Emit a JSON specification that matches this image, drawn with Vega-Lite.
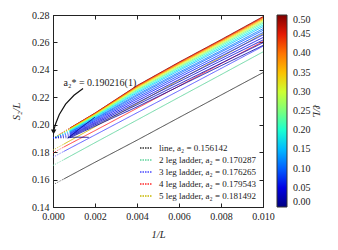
{
  "$schema": "https://vega.github.io/schema/vega-lite/v6.json",
  "width": 210,
  "height": 192,
  "autosize": "none",
  "padding": {"left": 53, "top": 15, "right": 75, "bottom": 43},
  "background": "white",
  "config": {
    "font": "Liberation Serif",
    "view": {"stroke": "#222", "strokeWidth": 1},
    "axis": {"grid": false, "labelFlush": false, "labelOverlap": false, "domainColor": "#222", "tickColor": "#222", "labelColor": "#222", "titleColor": "#222", "labelFontSize": 10, "titleFontSize": 10.5, "titleFontWeight": "normal", "labelFont": "Liberation Serif", "titleFont": "Liberation Serif"},
    "legend": {"labelFont": "Liberation Serif", "titleFont": "Liberation Serif", "labelColor": "#222", "titleColor": "#222"}
  },
  "datasets": {
    "ladders": [
      {"s": "line, a₂ = 0.156142", "seg": "fit", "x": 0, "y": 0.1562},
      {"s": "line, a₂ = 0.156142", "seg": "fit", "x": 0.0005, "y": 0.1603},
      {"s": "line, a₂ = 0.156142", "seg": "data", "x": 0.0005, "y": 0.1603},
      {"s": "line, a₂ = 0.156142", "seg": "data", "x": 0.002, "y": 0.1726},
      {"s": "line, a₂ = 0.156142", "seg": "data", "x": 0.004, "y": 0.1887},
      {"s": "line, a₂ = 0.156142", "seg": "data", "x": 0.006, "y": 0.2052},
      {"s": "line, a₂ = 0.156142", "seg": "data", "x": 0.008, "y": 0.2216},
      {"s": "line, a₂ = 0.156142", "seg": "data", "x": 0.01, "y": 0.238},
      {"s": "2 leg ladder, a₂ = 0.170287", "seg": "fit", "x": 0, "y": 0.1703},
      {"s": "2 leg ladder, a₂ = 0.170287", "seg": "fit", "x": 0.0005, "y": 0.1744},
      {"s": "2 leg ladder, a₂ = 0.170287", "seg": "data", "x": 0.0005, "y": 0.1744},
      {"s": "2 leg ladder, a₂ = 0.170287", "seg": "data", "x": 0.002, "y": 0.1869},
      {"s": "2 leg ladder, a₂ = 0.170287", "seg": "data", "x": 0.004, "y": 0.2034},
      {"s": "2 leg ladder, a₂ = 0.170287", "seg": "data", "x": 0.006, "y": 0.22},
      {"s": "2 leg ladder, a₂ = 0.170287", "seg": "data", "x": 0.008, "y": 0.2365},
      {"s": "2 leg ladder, a₂ = 0.170287", "seg": "data", "x": 0.01, "y": 0.2531},
      {"s": "3 leg ladder, a₂ = 0.176265", "seg": "fit", "x": 0, "y": 0.1763},
      {"s": "3 leg ladder, a₂ = 0.176265", "seg": "fit", "x": 0.0005, "y": 0.1804},
      {"s": "3 leg ladder, a₂ = 0.176265", "seg": "data", "x": 0.0005, "y": 0.1804},
      {"s": "3 leg ladder, a₂ = 0.176265", "seg": "data", "x": 0.002, "y": 0.1925},
      {"s": "3 leg ladder, a₂ = 0.176265", "seg": "data", "x": 0.004, "y": 0.2087},
      {"s": "3 leg ladder, a₂ = 0.176265", "seg": "data", "x": 0.006, "y": 0.2248},
      {"s": "3 leg ladder, a₂ = 0.176265", "seg": "data", "x": 0.008, "y": 0.241},
      {"s": "3 leg ladder, a₂ = 0.176265", "seg": "data", "x": 0.01, "y": 0.2572},
      {"s": "4 leg ladder, a₂ = 0.179543", "seg": "fit", "x": 0, "y": 0.1795},
      {"s": "4 leg ladder, a₂ = 0.179543", "seg": "fit", "x": 0.0005, "y": 0.1836},
      {"s": "4 leg ladder, a₂ = 0.179543", "seg": "data", "x": 0.0005, "y": 0.1836},
      {"s": "4 leg ladder, a₂ = 0.179543", "seg": "data", "x": 0.002, "y": 0.1957},
      {"s": "4 leg ladder, a₂ = 0.179543", "seg": "data", "x": 0.004, "y": 0.212},
      {"s": "4 leg ladder, a₂ = 0.179543", "seg": "data", "x": 0.006, "y": 0.2282},
      {"s": "4 leg ladder, a₂ = 0.179543", "seg": "data", "x": 0.008, "y": 0.2445},
      {"s": "4 leg ladder, a₂ = 0.179543", "seg": "data", "x": 0.01, "y": 0.2607},
      {"s": "5 leg ladder, a₂ = 0.181492", "seg": "fit", "x": 0, "y": 0.1815},
      {"s": "5 leg ladder, a₂ = 0.181492", "seg": "fit", "x": 0.0005, "y": 0.1857},
      {"s": "5 leg ladder, a₂ = 0.181492", "seg": "data", "x": 0.0005, "y": 0.1857},
      {"s": "5 leg ladder, a₂ = 0.181492", "seg": "data", "x": 0.002, "y": 0.1985},
      {"s": "5 leg ladder, a₂ = 0.181492", "seg": "data", "x": 0.004, "y": 0.2154},
      {"s": "5 leg ladder, a₂ = 0.181492", "seg": "data", "x": 0.006, "y": 0.2324},
      {"s": "5 leg ladder, a₂ = 0.181492", "seg": "data", "x": 0.008, "y": 0.2493},
      {"s": "5 leg ladder, a₂ = 0.181492", "seg": "data", "x": 0.01, "y": 0.2663}
    ],
    "curves": [
      {"id": "c1", "r": 0.5, "seg": "fit", "x": 0, "y": 0.1902},
      {"id": "c1", "r": 0.5, "seg": "fit", "x": 0.0008, "y": 0.1975},
      {"id": "c1", "r": 0.5, "seg": "data", "x": 0.0008, "y": 0.1975},
      {"id": "c1", "r": 0.5, "seg": "data", "x": 0.002, "y": 0.2085},
      {"id": "c1", "r": 0.5, "seg": "data", "x": 0.004, "y": 0.2285},
      {"id": "c1", "r": 0.5, "seg": "data", "x": 0.006, "y": 0.2456},
      {"id": "c1", "r": 0.5, "seg": "data", "x": 0.008, "y": 0.262},
      {"id": "c1", "r": 0.5, "seg": "data", "x": 0.01, "y": 0.2788},
      {"id": "c2", "r": 0.46, "seg": "fit", "x": 0, "y": 0.1902},
      {"id": "c2", "r": 0.46, "seg": "fit", "x": 0.0008, "y": 0.1974},
      {"id": "c2", "r": 0.46, "seg": "data", "x": 0.0008, "y": 0.1974},
      {"id": "c2", "r": 0.46, "seg": "data", "x": 0.002, "y": 0.2083},
      {"id": "c2", "r": 0.46, "seg": "data", "x": 0.004, "y": 0.2282},
      {"id": "c2", "r": 0.46, "seg": "data", "x": 0.006, "y": 0.2453},
      {"id": "c2", "r": 0.46, "seg": "data", "x": 0.008, "y": 0.2616},
      {"id": "c2", "r": 0.46, "seg": "data", "x": 0.01, "y": 0.2784},
      {"id": "c3", "r": 0.42, "seg": "fit", "x": 0, "y": 0.1902},
      {"id": "c3", "r": 0.42, "seg": "fit", "x": 0.0008, "y": 0.1972},
      {"id": "c3", "r": 0.42, "seg": "data", "x": 0.0008, "y": 0.1972},
      {"id": "c3", "r": 0.42, "seg": "data", "x": 0.002, "y": 0.2081},
      {"id": "c3", "r": 0.42, "seg": "data", "x": 0.004, "y": 0.2278},
      {"id": "c3", "r": 0.42, "seg": "data", "x": 0.006, "y": 0.2448},
      {"id": "c3", "r": 0.42, "seg": "data", "x": 0.008, "y": 0.2612},
      {"id": "c3", "r": 0.42, "seg": "data", "x": 0.01, "y": 0.2779},
      {"id": "c4", "r": 0.38, "seg": "fit", "x": 0, "y": 0.1902},
      {"id": "c4", "r": 0.38, "seg": "fit", "x": 0.0008, "y": 0.197},
      {"id": "c4", "r": 0.38, "seg": "data", "x": 0.0008, "y": 0.197},
      {"id": "c4", "r": 0.38, "seg": "data", "x": 0.002, "y": 0.2078},
      {"id": "c4", "r": 0.38, "seg": "data", "x": 0.004, "y": 0.2274},
      {"id": "c4", "r": 0.38, "seg": "data", "x": 0.006, "y": 0.2443},
      {"id": "c4", "r": 0.38, "seg": "data", "x": 0.008, "y": 0.2607},
      {"id": "c4", "r": 0.38, "seg": "data", "x": 0.01, "y": 0.2773},
      {"id": "c5", "r": 0.34, "seg": "fit", "x": 0, "y": 0.1902},
      {"id": "c5", "r": 0.34, "seg": "fit", "x": 0.0008, "y": 0.1968},
      {"id": "c5", "r": 0.34, "seg": "data", "x": 0.0008, "y": 0.1968},
      {"id": "c5", "r": 0.34, "seg": "data", "x": 0.002, "y": 0.2075},
      {"id": "c5", "r": 0.34, "seg": "data", "x": 0.004, "y": 0.2269},
      {"id": "c5", "r": 0.34, "seg": "data", "x": 0.006, "y": 0.2438},
      {"id": "c5", "r": 0.34, "seg": "data", "x": 0.008, "y": 0.26},
      {"id": "c5", "r": 0.34, "seg": "data", "x": 0.01, "y": 0.2766},
      {"id": "c6", "r": 0.3, "seg": "fit", "x": 0, "y": 0.1902},
      {"id": "c6", "r": 0.3, "seg": "fit", "x": 0.0008, "y": 0.1965},
      {"id": "c6", "r": 0.3, "seg": "data", "x": 0.0008, "y": 0.1965},
      {"id": "c6", "r": 0.3, "seg": "data", "x": 0.002, "y": 0.2071},
      {"id": "c6", "r": 0.3, "seg": "data", "x": 0.004, "y": 0.2263},
      {"id": "c6", "r": 0.3, "seg": "data", "x": 0.006, "y": 0.2431},
      {"id": "c6", "r": 0.3, "seg": "data", "x": 0.008, "y": 0.2593},
      {"id": "c6", "r": 0.3, "seg": "data", "x": 0.01, "y": 0.2758},
      {"id": "c7", "r": 0.26, "seg": "fit", "x": 0, "y": 0.1902},
      {"id": "c7", "r": 0.26, "seg": "fit", "x": 0.0008, "y": 0.1962},
      {"id": "c7", "r": 0.26, "seg": "data", "x": 0.0008, "y": 0.1962},
      {"id": "c7", "r": 0.26, "seg": "data", "x": 0.002, "y": 0.2067},
      {"id": "c7", "r": 0.26, "seg": "data", "x": 0.004, "y": 0.2256},
      {"id": "c7", "r": 0.26, "seg": "data", "x": 0.006, "y": 0.2423},
      {"id": "c7", "r": 0.26, "seg": "data", "x": 0.008, "y": 0.2585},
      {"id": "c7", "r": 0.26, "seg": "data", "x": 0.01, "y": 0.2749},
      {"id": "c8", "r": 0.22, "seg": "fit", "x": 0, "y": 0.1902},
      {"id": "c8", "r": 0.22, "seg": "fit", "x": 0.0008, "y": 0.1959},
      {"id": "c8", "r": 0.22, "seg": "data", "x": 0.0008, "y": 0.1959},
      {"id": "c8", "r": 0.22, "seg": "data", "x": 0.002, "y": 0.2063},
      {"id": "c8", "r": 0.22, "seg": "data", "x": 0.004, "y": 0.2249},
      {"id": "c8", "r": 0.22, "seg": "data", "x": 0.006, "y": 0.2415},
      {"id": "c8", "r": 0.22, "seg": "data", "x": 0.008, "y": 0.2576},
      {"id": "c8", "r": 0.22, "seg": "data", "x": 0.01, "y": 0.2739},
      {"id": "c9", "r": 0.18, "seg": "fit", "x": 0, "y": 0.1902},
      {"id": "c9", "r": 0.18, "seg": "fit", "x": 0.0008, "y": 0.1955},
      {"id": "c9", "r": 0.18, "seg": "data", "x": 0.0008, "y": 0.1955},
      {"id": "c9", "r": 0.18, "seg": "data", "x": 0.002, "y": 0.2057},
      {"id": "c9", "r": 0.18, "seg": "data", "x": 0.004, "y": 0.224},
      {"id": "c9", "r": 0.18, "seg": "data", "x": 0.006, "y": 0.2405},
      {"id": "c9", "r": 0.18, "seg": "data", "x": 0.008, "y": 0.2565},
      {"id": "c9", "r": 0.18, "seg": "data", "x": 0.01, "y": 0.2727},
      {"id": "c10", "r": 0.15, "seg": "fit", "x": 0, "y": 0.1902},
      {"id": "c10", "r": 0.15, "seg": "fit", "x": 0.0008, "y": 0.1951},
      {"id": "c10", "r": 0.15, "seg": "data", "x": 0.0008, "y": 0.1951},
      {"id": "c10", "r": 0.15, "seg": "data", "x": 0.002, "y": 0.2052},
      {"id": "c10", "r": 0.15, "seg": "data", "x": 0.004, "y": 0.2231},
      {"id": "c10", "r": 0.15, "seg": "data", "x": 0.006, "y": 0.2395},
      {"id": "c10", "r": 0.15, "seg": "data", "x": 0.008, "y": 0.2554},
      {"id": "c10", "r": 0.15, "seg": "data", "x": 0.01, "y": 0.2715},
      {"id": "c11", "r": 0.12, "seg": "fit", "x": 0, "y": 0.1902},
      {"id": "c11", "r": 0.12, "seg": "fit", "x": 0.0008, "y": 0.1946},
      {"id": "c11", "r": 0.12, "seg": "data", "x": 0.0008, "y": 0.1946},
      {"id": "c11", "r": 0.12, "seg": "data", "x": 0.002, "y": 0.2045},
      {"id": "c11", "r": 0.12, "seg": "data", "x": 0.004, "y": 0.222},
      {"id": "c11", "r": 0.12, "seg": "data", "x": 0.006, "y": 0.2382},
      {"id": "c11", "r": 0.12, "seg": "data", "x": 0.008, "y": 0.254},
      {"id": "c11", "r": 0.12, "seg": "data", "x": 0.01, "y": 0.27},
      {"id": "c12", "r": 0.1, "seg": "fit", "x": 0, "y": 0.1902},
      {"id": "c12", "r": 0.1, "seg": "fit", "x": 0.0008, "y": 0.1942},
      {"id": "c12", "r": 0.1, "seg": "data", "x": 0.0008, "y": 0.1942},
      {"id": "c12", "r": 0.1, "seg": "data", "x": 0.002, "y": 0.204},
      {"id": "c12", "r": 0.1, "seg": "data", "x": 0.004, "y": 0.2211},
      {"id": "c12", "r": 0.1, "seg": "data", "x": 0.006, "y": 0.2372},
      {"id": "c12", "r": 0.1, "seg": "data", "x": 0.008, "y": 0.253},
      {"id": "c12", "r": 0.1, "seg": "data", "x": 0.01, "y": 0.2688},
      {"id": "c13", "r": 0.08, "seg": "fit", "x": 0, "y": 0.1902},
      {"id": "c13", "r": 0.08, "seg": "fit", "x": 0.0008, "y": 0.1936},
      {"id": "c13", "r": 0.08, "seg": "data", "x": 0.0008, "y": 0.1936},
      {"id": "c13", "r": 0.08, "seg": "data", "x": 0.002, "y": 0.2033},
      {"id": "c13", "r": 0.08, "seg": "data", "x": 0.004, "y": 0.2199},
      {"id": "c13", "r": 0.08, "seg": "data", "x": 0.006, "y": 0.2359},
      {"id": "c13", "r": 0.08, "seg": "data", "x": 0.008, "y": 0.2515},
      {"id": "c13", "r": 0.08, "seg": "data", "x": 0.01, "y": 0.2672},
      {"id": "c14", "r": 0.065, "seg": "fit", "x": 0, "y": 0.1902},
      {"id": "c14", "r": 0.065, "seg": "fit", "x": 0.0008, "y": 0.1931},
      {"id": "c14", "r": 0.065, "seg": "data", "x": 0.0008, "y": 0.1931},
      {"id": "c14", "r": 0.065, "seg": "data", "x": 0.002, "y": 0.2025},
      {"id": "c14", "r": 0.065, "seg": "data", "x": 0.004, "y": 0.2187},
      {"id": "c14", "r": 0.065, "seg": "data", "x": 0.006, "y": 0.2345},
      {"id": "c14", "r": 0.065, "seg": "data", "x": 0.008, "y": 0.25},
      {"id": "c14", "r": 0.065, "seg": "data", "x": 0.01, "y": 0.2655},
      {"id": "c15", "r": 0.05, "seg": "fit", "x": 0, "y": 0.1902},
      {"id": "c15", "r": 0.05, "seg": "fit", "x": 0.0008, "y": 0.1924},
      {"id": "c15", "r": 0.05, "seg": "data", "x": 0.0008, "y": 0.1924},
      {"id": "c15", "r": 0.05, "seg": "data", "x": 0.002, "y": 0.2016},
      {"id": "c15", "r": 0.05, "seg": "data", "x": 0.004, "y": 0.2173},
      {"id": "c15", "r": 0.05, "seg": "data", "x": 0.006, "y": 0.2329},
      {"id": "c15", "r": 0.05, "seg": "data", "x": 0.008, "y": 0.2482},
      {"id": "c15", "r": 0.05, "seg": "data", "x": 0.01, "y": 0.2636},
      {"id": "c16", "r": 0.04, "seg": "fit", "x": 0, "y": 0.1902},
      {"id": "c16", "r": 0.04, "seg": "fit", "x": 0.0008, "y": 0.1918},
      {"id": "c16", "r": 0.04, "seg": "data", "x": 0.0008, "y": 0.1918},
      {"id": "c16", "r": 0.04, "seg": "data", "x": 0.002, "y": 0.2008},
      {"id": "c16", "r": 0.04, "seg": "data", "x": 0.004, "y": 0.2159},
      {"id": "c16", "r": 0.04, "seg": "data", "x": 0.006, "y": 0.2313},
      {"id": "c16", "r": 0.04, "seg": "data", "x": 0.008, "y": 0.2466},
      {"id": "c16", "r": 0.04, "seg": "data", "x": 0.01, "y": 0.2618},
      {"id": "c17", "r": 0.03, "seg": "fit", "x": 0, "y": 0.1902},
      {"id": "c17", "r": 0.03, "seg": "fit", "x": 0.0008, "y": 0.1912},
      {"id": "c17", "r": 0.03, "seg": "data", "x": 0.0008, "y": 0.1912},
      {"id": "c17", "r": 0.03, "seg": "data", "x": 0.002, "y": 0.1999},
      {"id": "c17", "r": 0.03, "seg": "data", "x": 0.004, "y": 0.2145},
      {"id": "c17", "r": 0.03, "seg": "data", "x": 0.006, "y": 0.2296},
      {"id": "c17", "r": 0.03, "seg": "data", "x": 0.008, "y": 0.2448},
      {"id": "c17", "r": 0.03, "seg": "data", "x": 0.01, "y": 0.2598},
      {"id": "c18", "r": 0.02, "seg": "fit", "x": 0, "y": 0.1902},
      {"id": "c18", "r": 0.02, "seg": "fit", "x": 0.0008, "y": 0.1905},
      {"id": "c18", "r": 0.02, "seg": "data", "x": 0.0008, "y": 0.1905},
      {"id": "c18", "r": 0.02, "seg": "data", "x": 0.002, "y": 0.199},
      {"id": "c18", "r": 0.02, "seg": "data", "x": 0.004, "y": 0.213},
      {"id": "c18", "r": 0.02, "seg": "data", "x": 0.006, "y": 0.228},
      {"id": "c18", "r": 0.02, "seg": "data", "x": 0.008, "y": 0.243},
      {"id": "c18", "r": 0.02, "seg": "data", "x": 0.01, "y": 0.2578},
      {"id": "n1", "r": 0.005, "seg": "data", "x": 0.0007, "y": 0.1908},
      {"id": "n1", "r": 0.005, "seg": "data", "x": 0.0012, "y": 0.1909},
      {"id": "n1", "r": 0.005, "seg": "data", "x": 0.0017, "y": 0.1908},
      {"id": "n2", "r": 0.01, "seg": "data", "x": 0.0007, "y": 0.1901},
      {"id": "n2", "r": 0.01, "seg": "data", "x": 0.0013, "y": 0.1975},
      {"id": "n2", "r": 0.01, "seg": "data", "x": 0.002, "y": 0.2055}
    ],
    "arrow": [
      {"x": 0.00143, "y": 0.2264},
      {"x": 0.001, "y": 0.2215},
      {"x": 0.0006, "y": 0.215},
      {"x": 0.0003, "y": 0.2075},
      {"x": 0.00012, "y": 0.2005},
      {"x": 0.00004, "y": 0.196}
    ],
    "head": [{"x": 0.00003, "y": 0.1948}],
    "note": [{"x": 0.0005, "y": 0.2307, "t": "a₂* = 0.190216(1)"}]
  },
  "layer": [
    {
      "data": {"name": "ladders"},
      "mark": {"type": "line", "strokeWidth": 0.9},
      "encoding": {
        "x": {"field": "x", "type": "quantitative", "scale": {"domain": [0, 0.01], "nice": false, "zero": false},
              "axis": {"title": "1/L", "titleFontStyle": "italic", "values": [0, 0.002, 0.004, 0.006, 0.008, 0.01], "format": ".3f", "tickSize": -4, "labelPadding": 8, "titlePadding": 8}},
        "y": {"field": "y", "type": "quantitative", "scale": {"domain": [0.14, 0.28], "nice": false, "zero": false},
              "axis": {"title": "S₂/L", "titleFontStyle": "italic", "values": [0.14, 0.16, 0.18, 0.2, 0.22, 0.24, 0.26, 0.28], "format": ".2f", "tickSize": -4, "labelPadding": 8, "titlePadding": 10}},
        "color": {"field": "s", "type": "nominal",
                  "scale": {"domain": ["line, a₂ = 0.156142", "2 leg ladder, a₂ = 0.170287", "3 leg ladder, a₂ = 0.176265", "4 leg ladder, a₂ = 0.179543", "5 leg ladder, a₂ = 0.181492"],
                            "range": ["#333333", "#5fd49c", "#4a4aff", "#ff2a2a", "#c8b800"]},
                  "legend": {"orient": "bottom-right", "title": null, "symbolType": "stroke", "symbolDash": [1.5, 1], "symbolStrokeWidth": 1.5, "symbolOpacity": 1, "symbolSize": 144, "labelFontSize": 9, "offset": 6, "rowPadding": -1.5, "labelOffset": 6, "padding": 0}},
        "detail": {"field": "s"},
        "strokeDash": {"field": "seg", "type": "nominal", "scale": {"domain": ["data", "fit"], "range": [[1, 0], [1, 1.5]]}, "legend": null}
      }
    },
    {
      "data": {"name": "curves"},
      "mark": {"type": "line", "strokeWidth": 0.9},
      "encoding": {
        "x": {"field": "x", "type": "quantitative", "axis": null},
        "y": {"field": "y", "type": "quantitative", "axis": null},
        "color": {"field": "r", "type": "quantitative",
                  "scale": {"domain": [0, 0.0625, 0.125, 0.1875, 0.25, 0.3125, 0.375, 0.4375, 0.5],
                            "range": ["#000080", "#0000ff", "#0080ff", "#14ffe2", "#7bff7b", "#e2ff14", "#ff9700", "#ff2200", "#800000"]},
                  "legend": {"orient": "right", "title": "ℓ/L", "titleOrient": "right", "titleAnchor": "middle", "titleAlign": "center", "titleBaseline": "middle", "titleAngle": 270, "titleFontStyle": "italic", "titleFontSize": 10.5, "titleFontWeight": "normal", "gradientLength": 192, "gradientThickness": 10, "values": [0, 0.05, 0.1, 0.15, 0.2, 0.25, 0.3, 0.35, 0.4, 0.45, 0.5], "format": ".2f", "labelFontSize": 10, "labelOverlap": false, "offset": 12, "gradientStrokeColor": "#333", "gradientStrokeWidth": 1, "padding": 0, "labelOffset": 6}},
        "detail": {"field": "id"},
        "strokeDash": {"field": "seg", "type": "nominal", "legend": null},
        "opacity": {"field": "seg", "type": "nominal", "scale": {"domain": ["data", "fit"], "range": [1, 0.55]}, "legend": null}
      }
    },
    {
      "data": {"name": "arrow"},
      "mark": {"type": "line", "color": "#111", "strokeWidth": 1.2},
      "encoding": {
        "x": {"field": "x", "type": "quantitative", "axis": {"orient": "top", "labels": false, "title": null, "tickSize": -4, "values": [0, 0.002, 0.004, 0.006, 0.008, 0.01]}},
        "y": {"field": "y", "type": "quantitative", "axis": {"orient": "right", "labels": false, "title": null, "tickSize": -4, "values": [0.14, 0.16, 0.18, 0.2, 0.22, 0.24, 0.26, 0.28]}}
      }
    },
    {
      "data": {"name": "head"},
      "mark": {"type": "point", "shape": "triangle-down", "filled": true, "color": "#111", "size": 30, "opacity": 1},
      "encoding": {
        "x": {"field": "x", "type": "quantitative", "axis": null},
        "y": {"field": "y", "type": "quantitative", "axis": null}
      }
    },
    {
      "data": {"name": "note"},
      "mark": {"type": "text", "align": "left", "baseline": "middle", "fontSize": 10, "font": "Liberation Serif", "color": "#222"},
      "encoding": {
        "x": {"field": "x", "type": "quantitative", "axis": null},
        "y": {"field": "y", "type": "quantitative", "axis": null},
        "text": {"field": "t"}
      }
    }
  ],
  "resolve": {"scale": {"color": "independent"}, "axis": {"x": "independent", "y": "independent"}}
}
